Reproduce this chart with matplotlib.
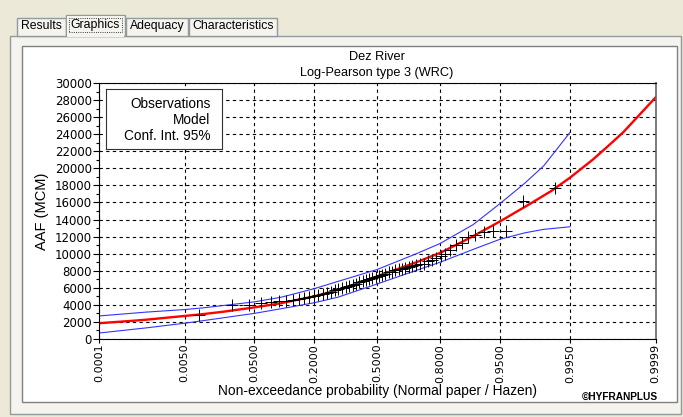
import numpy as np
import matplotlib.pyplot as plt
from matplotlib.patches import Rectangle
from statistics import NormalDist

# ---- data ----
prob_ticks = [0.0001, 0.005, 0.05, 0.2, 0.5, 0.8, 0.95, 0.995, 0.9999]
tick_labels = ['0.0001', '0.0050', '0.0500', '0.2000', '0.5000',
               '0.8000', '0.9500', '0.9950', '0.9999']

# observed annual flows, sorted (Hazen plotting positions)
obs = [2800, 3950, 4000, 4200, 4350, 4450, 4500, 4600, 4700, 4800,
       4900, 5000, 5100, 5250, 5400, 5550, 5700, 5850, 5950, 6100,
       6250, 6350, 6500, 6650, 6800, 6900, 7050, 7150, 7300, 7400,
       7550, 7650, 7800, 7900, 8050, 8150, 8250, 8350, 8450, 8550,
       8650, 8750, 8800, 9100, 9300, 9500, 9700, 10000, 10400, 11000,
       11300, 11900, 12200, 12500, 12600, 12600, 16200, 17700]

model_p = [0.0001, 0.0005, 0.001, 0.005, 0.01, 0.02, 0.05, 0.1, 0.2, 0.3,
           0.4, 0.5, 0.6, 0.7, 0.8, 0.85, 0.9, 0.95, 0.98, 0.99, 0.995,
           0.998, 0.999, 0.9995, 0.9999]
model_q = [1850, 2120, 2260, 2700, 2920, 3200, 3700, 4200, 5000, 5750,
           6550, 7350, 8150, 9000, 10100, 10950, 12050, 13800, 15900, 17350,
           18900, 21000, 22650, 24250, 28300]

ci_p = [0.0001, 0.001, 0.005, 0.01, 0.05, 0.1, 0.2, 0.3, 0.5, 0.7, 0.8,
        0.9, 0.95, 0.976, 0.987, 0.995]
ci_up = [2700, 3150, 3450, 3650, 4350, 4900, 5900, 6750, 8150, 10000, 11200,
         13400, 15900, 18300, 20300, 24200]
ci_lo = [700, 1300, 1850, 2150, 3000, 3550, 4250, 4900, 6450, 8050, 9000,
         10500, 11700, 12450, 12850, 13150]

nd = NormalDist()
def zq(p):
    return np.array([nd.inv_cdf(v) for v in p])

n = len(obs)
hazen = [(i + 0.5) / n for i in range(n)]

W, H = 683, 417
fig = plt.figure(figsize=(W / 100, H / 100), dpi=100)
fig.patch.set_facecolor('#ECE9D8')
plt.rcParams['font.family'] = ['Liberation Sans', 'DejaVu Sans']

# window furniture (pixel coordinates)
bg = fig.add_axes([0, 0, 1, 1], zorder=-1)
bg.set_xlim(0, W)
bg.set_ylim(H, 0)
bg.axis('off')
bg.add_patch(Rectangle((10, 36), 671, 378, facecolor='#F4F3EE', edgecolor='#919B9C', lw=1))
tabs = [('Results', 17, 49), ('Graphics', 66, 59), ('Adequacy', 126, 62), ('Characteristics', 189, 88)]
for name, x0, w in tabs:
    top = 15 if name == 'Graphics' else 18
    bg.add_patch(Rectangle((x0, top), w, 36 - top, facecolor='#F4F3EE', edgecolor='#919B9C', lw=1))
    if name != 'Graphics':
        bg.text(x0 + w / 2, 26, name, ha='center', va='center', fontsize=8.8, color='black')
bg.add_patch(Rectangle((67, 16), 57, 21, facecolor='#F4F3EE', edgecolor='none'))
bg.text(66 + 59 / 2, 25, 'Graphics', ha='center', va='center', fontsize=8.8,
        bbox=dict(boxstyle='square,pad=0.12', fc='none', ec='black', ls=':', lw=0.6))
bg.add_patch(Rectangle((22, 46), 655, 356, facecolor='white', edgecolor='#808080', lw=1))

# chart
ax = fig.add_axes([99 / W, 1 - 339 / H, (655.5 - 99) / W, (339 - 83) / H])
ax.set_facecolor('white')
ax.plot(zq(ci_p), ci_up, color='#3333FF', lw=0.8)
ax.plot(zq(ci_p), ci_lo, color='#3333FF', lw=0.8)
ax.plot(zq(model_p), model_q, color='#FF0000', lw=1.7)
ax.plot(zq(hazen), obs, '+', color='black', ms=9, mew=0.7)

zt = zq(prob_ticks)
ax.set_xlim(zt[0], zt[-1])
ax.set_ylim(0, 30000)
ax.set_xticks(zt)
ax.set_xticklabels(tick_labels, rotation=90, fontsize=8, family='DejaVu Sans')
ax.set_yticks(np.arange(0, 30001, 2000))
ax.set_yticklabels([str(v) for v in range(0, 30001, 2000)], fontsize=8.5, family='DejaVu Sans')
ax.set_yticks(np.arange(1000, 30000, 2000), minor=True)
ax.tick_params(axis='both', direction='out', length=4, width=0.8, pad=1)
ax.tick_params(axis='x', length=3, pad=0.5)
ax.tick_params(axis='y', which='minor', length=2, width=0.8)
ax.grid(True, color='black', ls=(0, (3, 3)), lw=0.8)
for s in ['left', 'bottom', 'top']:
    ax.spines[s].set_color('black')
ax.spines['right'].set_color('#666666')
ax.spines['right'].set_linewidth(1.2)

# legend box (text only)
lx0, ly0, lx1, ly1 = 106, 89, 222, 149
leg = fig.add_axes([lx0 / W, 1 - ly1 / H, (lx1 - lx0) / W, (ly1 - ly0) / H])
leg.set_xticks([])
leg.set_yticks([])
leg.set_xlim(0, 1)
leg.set_ylim(0, 1)
for s in leg.spines.values():
    s.set_color('#333333')
for i, t in enumerate(['Observations', 'Model', 'Conf. Int. 95%']):
    leg.text(0.9, 0.75 - i * 0.265, t, ha='right', va='center', fontsize=9.8)

# titles and axis labels placed in pixel coordinates
top = fig.add_axes([0, 0, 1, 1], zorder=5)
top.set_xlim(0, W)
top.set_ylim(H, 0)
top.axis('off')
top.patch.set_alpha(0)
top.text(377, 57, 'Dez River', ha='center', va='center', fontsize=9.2)
top.text(377, 73, 'Log-Pearson type 3 (WRC)', ha='center', va='center', fontsize=9.2)
top.text(377, 391, 'Non-exceedance probability (Normal paper / Hazen)',
         ha='center', va='center', fontsize=9.9)
top.text(42, 211, 'AAF (MCM)', ha='center', va='center', rotation=90, fontsize=10.5)
top.text(658, 397, '©HYFRANPLUS', ha='right', va='center', fontsize=7.3, weight='bold')

fig.savefig('out.png', dpi=100, facecolor=fig.get_facecolor())
